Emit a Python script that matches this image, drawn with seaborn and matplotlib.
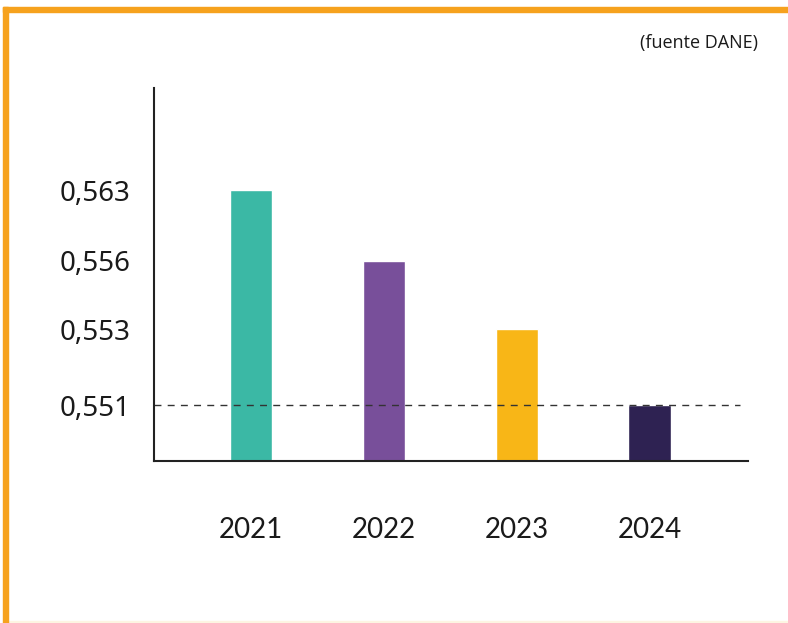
import numpy as np
import pandas as pd
import matplotlib
matplotlib.use("Agg")
import matplotlib.pyplot as plt
from matplotlib.patches import Rectangle
import seaborn as sns

# --------------------------------------------------
# data
# --------------------------------------------------
years = ["2021", "2022", "2023", "2024"]
values = [0.563, 0.556, 0.553, 0.551]
colors = ["#3bb8a5", "#784f9a", "#f8b617", "#2e2252"]
tick_values = [0.551, 0.553, 0.556, 0.563]
tick_labels = ["0,551", "0,553", "0,556", "0,563"]
source = "(fuente DANE)"

df = pd.DataFrame({"year": years, "value": values})

# the original axis is not linear: ticks sit at roughly even steps,
# so use a piecewise scale anchored on the tick values
anchor_vals = np.array([0.530, 0.551, 0.553, 0.556, 0.563, 0.600])
anchor_pos = np.array([0.0, 56.0, 132.0, 200.5, 271.0, 500.0])


def fwd(v):
    return np.interp(v, anchor_vals, anchor_pos)


def inv(p):
    return np.interp(p, anchor_pos, anchor_vals)


sns.set_style("white")
plt.rcParams["font.family"] = ["Noto Sans", "DejaVu Sans"]

W, H = 788, 623
fig = plt.figure(figsize=(W / 100, H / 100), dpi=100)
ax = fig.add_axes([154 / W, (H - 461) / H, (748 - 154) / W, (461 - 88) / H])

sns.barplot(data=df, x="year", y="value", hue="year", palette=colors,
            width=0.32, legend=False, saturation=1, ax=ax)

ax.set_yscale("function", functions=(fwd, inv))
ax.set_ylim(0.530, inv(373.0))
ax.set_xlim(-0.73, 3.74)

# reference line at the lowest value
ax.axhline(0.551, xmin=0, xmax=(740 - 154) / (748 - 154), color="#333333",
           lw=1.0, ls=(0, (5, 4.5)))

ax.set_yticks(tick_values)
ax.set_yticklabels(tick_labels)
ax.yaxis.set_minor_locator(matplotlib.ticker.NullLocator())
ax.tick_params(axis="y", length=0, pad=17, labelsize=20, labelcolor="#1a1a1a")
ax.tick_params(axis="x", length=0, pad=40, labelsize=20, labelcolor="#1a1a1a")
for lbl in ax.get_xticklabels():
    lbl.set_family(["Lato", "DejaVu Sans"])
ax.set_xlabel("")
ax.set_ylabel("")

sns.despine(ax=ax)
for side in ["left", "bottom"]:
    ax.spines[side].set_color("#222222")
    ax.spines[side].set_linewidth(1.5)

fig.text(699 / W, 1 - 43 / H, source, ha="center", va="center",
         fontsize=13, family=["Open Sans", "DejaVu Sans"], color="#1a1a1a")

# orange frame (top and left) plus faint bottom line
fig.patches.append(Rectangle((3 / W, 0), 5 / W, (H - 7) / H,
                             transform=fig.transFigure, color="#f6a21e", zorder=5))
fig.patches.append(Rectangle((3 / W, 1 - 12 / H), 1 - 3 / W, 5 / H,
                             transform=fig.transFigure, color="#f6a21e", zorder=5))
fig.patches.append(Rectangle((8 / W, 0), 1, 2 / H,
                             transform=fig.transFigure, color="#fdf5e2", zorder=4))

fig.savefig("out.png", dpi=100)
